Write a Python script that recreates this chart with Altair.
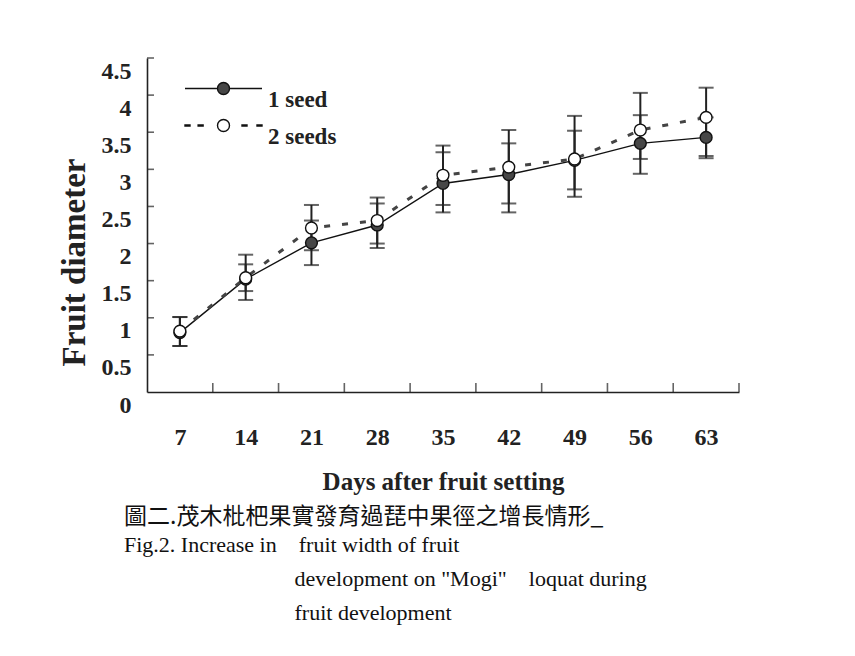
import altair as alt
import pandas as pd

days = [7, 14, 21, 28, 35, 42, 49, 56, 63]
series_names = ["1 seed", "2 seeds"]

s1_mean = [0.80, 1.52, 2.01, 2.25, 2.81, 2.93, 3.12, 3.35, 3.43]
s1_hi = [1.01, 1.72, 2.31, 2.54, 3.23, 3.35, 3.52, 3.73, 3.70]
s1_lo = [0.62, 1.36, 1.71, 1.94, 2.42, 2.42, 2.73, 2.94, 3.15]

s2_mean = [0.82, 1.54, 2.21, 2.31, 2.92, 3.03, 3.14, 3.53, 3.70]
s2_hi = [1.01, 1.85, 2.52, 2.62, 3.32, 3.53, 3.72, 4.03, 4.10]
s2_lo = [0.62, 1.24, 1.91, 2.00, 2.52, 2.54, 2.63, 3.14, 3.18]

x_domain = [3.5, 66.5]
y_domain = [0, 4.5]
x_label_values = days
x_tick_values = [10.5, 17.5, 24.5, 31.5, 38.5, 45.5, 52.5, 59.5, 66.5]
y_label_values = [0, 0.5, 1, 1.5, 2, 2.5, 3, 3.5, 4, 4.5]
y_tick_values = [0.5, 1, 1.5, 2, 2.5, 3, 3.5, 4, 4.5]

rows = []
for name, m, lo, hi in [(series_names[0], s1_mean, s1_lo, s1_hi),
                        (series_names[1], s2_mean, s2_lo, s2_hi)]:
    for d, a, b, c in zip(days, m, lo, hi):
        rows.append({"series": name, "day": d, "mean": a, "lo": b, "hi": c})
df = pd.DataFrame(rows)
caps = df.melt(id_vars=["series", "day"], value_vars=["lo", "hi"], value_name="v")
xticks_df = pd.DataFrame({"t": x_tick_values, "base": y_domain[0]})
yticks_df = pd.DataFrame({"t": y_tick_values, "base": x_domain[0]})

xs = alt.Scale(domain=x_domain, nice=False, zero=False)
ys = alt.Scale(domain=y_domain, nice=False)

FONT = "Liberation Serif"
INK = "#222222"

x_axis = alt.Axis(values=x_label_values, ticks=False, tickSize=0, grid=False,
                  labelPadding=33, labelFont=FONT, labelFontWeight="bold",
                  labelFontSize=24, labelColor=INK, domainColor=INK,
                  domainWidth=1.6, title="Days after fruit setting",
                  titleFont=FONT, titleFontWeight="bold", titleFontSize=25,
                  titleColor=INK, titlePadding=20, orient="bottom")
y_axis = alt.Axis(values=y_label_values, ticks=False, tickSize=0, grid=False,
                  labelPadding=16, labelOffset=13, format="~g",
                  labelFont=FONT, labelFontWeight="bold", labelFontSize=24,
                  labelColor=INK, domainColor=INK, domainWidth=1.6,
                  title="Fruit diameter", titleFont=FONT,
                  titleFontWeight="bold", titleFontSize=33, titleColor=INK,
                  titlePadding=10, titleY=204, orient="left")


def X(field):
    return alt.X(field, scale=xs, axis=x_axis)


def Y(field):
    return alt.Y(field, scale=ys, axis=y_axis)


base = alt.Chart(df)

bars = base.mark_rule(color=INK, strokeWidth=2).encode(
    x=X("day:Q"), y=Y("lo:Q"), y2="hi:Q",
)

cap_marks = alt.Chart(caps).mark_tick(color=INK, orient="horizontal", size=15,
                                       thickness=2).encode(
    x=X("day:Q"), y=Y("v:Q"),
)

# inward-pointing axis ticks
x_ticks = alt.Chart(xticks_df).mark_tick(color=INK, orient="vertical", size=9,
                                         thickness=1.6, yOffset=-4.5).encode(
    x=X("t:Q"), y=Y("base:Q"),
)
y_ticks = alt.Chart(yticks_df).mark_tick(color=INK, orient="horizontal", size=7,
                                         thickness=1.6, xOffset=3.5).encode(
    x=X("base:Q"), y=Y("t:Q"),
)

line1 = base.transform_filter(alt.datum.series == series_names[0]).mark_line(
    color="#111111", strokeWidth=1.4).encode(x=X("day:Q"), y=Y("mean:Q"))
line2 = base.transform_filter(alt.datum.series == series_names[1]).mark_line(
    color="#444444", strokeWidth=3, strokeDash=[6, 12]).encode(
    x=X("day:Q"), y=Y("mean:Q"))

pts1 = base.transform_filter(alt.datum.series == series_names[0]).mark_point(
    filled=True, size=140, fill="#474747", stroke="#111111", strokeWidth=1.4,
    opacity=1).encode(x=X("day:Q"), y=Y("mean:Q"))
pts2 = base.transform_filter(alt.datum.series == series_names[1]).mark_point(
    filled=True, size=140, fill="#ffffff", stroke="#111111", strokeWidth=1.4,
    opacity=1).encode(x=X("day:Q"), y=Y("mean:Q"))

# legend symbols (drawn wider than their nominal size): line + marker, dashes + marker
P1 = ("M-3.08,0H-0.48M0.48,0H3.08M0.48,0A0.48,0.48,0,1,1,-0.48,0"
      "A0.48,0.48,0,1,1,0.48,0Z")
P2 = ("M-3.08,-0.046H-2.68V0.046H-3.08Z M-2.03,-0.046H-1.63V0.046H-2.03Z "
      "M1.48,-0.046H1.88V0.046H1.48Z M2.68,-0.046H3.08V0.046H2.68Z "
      "M0.48,0A0.48,0.48,0,1,1,-0.48,0A0.48,0.48,0,1,1,0.48,0Z")

legend = alt.Legend(
    title=None, orient="none", legendX=63, legendY=17, padding=0,
    symbolSize=625, symbolStrokeColor="#111111", symbolStrokeWidth=1.4,
    symbolOpacity=1,
    labelFont=FONT, labelFontWeight="bold", labelFontSize=23, labelColor=INK,
    labelOffset=31, labelBaseline="top", rowPadding=-2,
)

legend_layer = base.transform_filter(alt.datum.day < 0).mark_point(
    filled=True, strokeWidth=1.4, opacity=1).encode(
    x=X("day:Q"), y=Y("mean:Q"),
    fill=alt.Fill("series:N",
                  scale=alt.Scale(domain=series_names, range=["#474747", "#ffffff"]),
                  legend=legend),
    stroke=alt.Stroke("series:N",
                      scale=alt.Scale(domain=series_names, range=["#111111", "#111111"]),
                      legend=legend),
    shape=alt.Shape("series:N",
                    scale=alt.Scale(domain=series_names, range=[P1, P2]),
                    legend=legend),
)

INDENT = "\u200d" + "\u00a0" * 31
caption = alt.Title(
    text="圖二.茂木枇杷果實發育過琵中果徑之增長情形_",
    subtitle=["Fig.2. Increase in\u00a0\u00a0\u00a0 fruit width of fruit",
              INDENT + "development on \"Mogi\"\u00a0\u00a0\u00a0 loquat during",
              INDENT + "fruit development"],
    orient="bottom", anchor="start", frame="group", dx=-23, offset=12,
    font="Noto Sans CJK TC", fontSize=23, fontWeight="normal", color="#111111",
    subtitleFont=FONT, subtitleFontSize=22, subtitleColor="#111111",
    subtitleLineHeight=34, subtitlePadding=6,
)

chart = alt.layer(bars, cap_marks, x_ticks, y_ticks, line1, line2, pts1, pts2,
                  legend_layer).properties(
    width=592, height=334, title=caption, background="white",
    padding={"left": 50, "top": 49, "right": 5, "bottom": 5},
).configure_view(strokeWidth=0)

chart.save("out.html", embed_options={"renderer": "svg", "actions": False})
